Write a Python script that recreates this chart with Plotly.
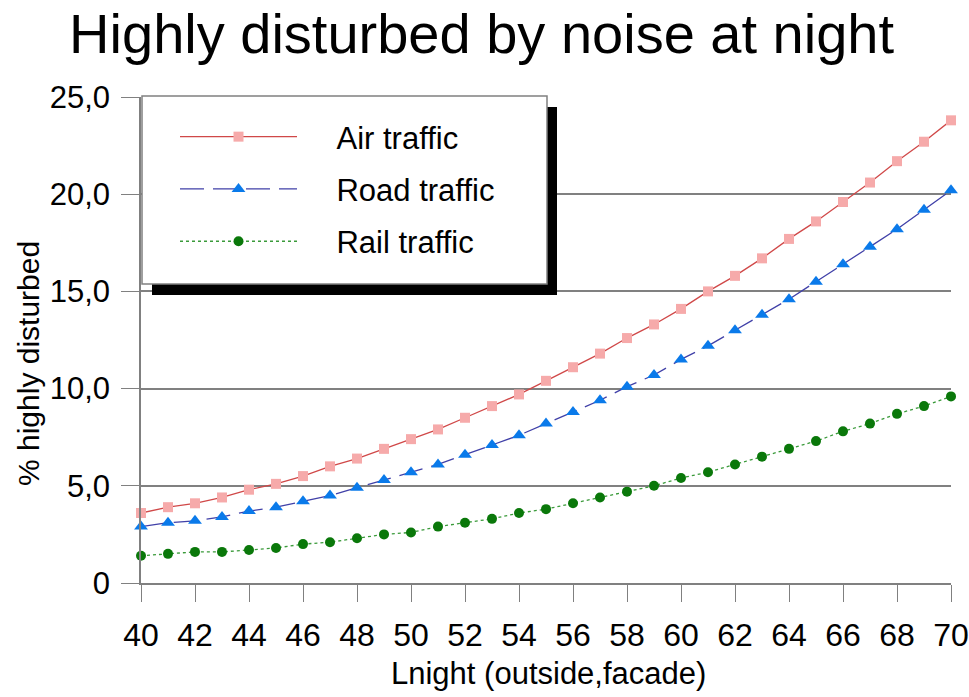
import plotly.graph_objects as go

lnight = list(range(40, 71))
air = [3.6, 3.9, 4.1, 4.4, 4.8, 5.1, 5.5, 6.0, 6.4, 6.9, 7.4, 7.9, 8.5, 9.1, 9.7, 10.4,
       11.1, 11.8, 12.6, 13.3, 14.1, 15.0, 15.8, 16.7, 17.7, 18.6, 19.6, 20.6, 21.7, 22.7, 23.8]
road = [2.9, 3.1, 3.2, 3.4, 3.7, 3.9, 4.2, 4.5, 4.9, 5.3, 5.7, 6.1, 6.6, 7.1, 7.6, 8.2,
        8.8, 9.4, 10.1, 10.7, 11.5, 12.2, 13.0, 13.8, 14.6, 15.5, 16.4, 17.3, 18.2, 19.2, 20.2]
rail = [1.4, 1.5, 1.6, 1.6, 1.7, 1.8, 2.0, 2.1, 2.3, 2.5, 2.6, 2.9, 3.1, 3.3, 3.6, 3.8,
        4.1, 4.4, 4.7, 5.0, 5.4, 5.7, 6.1, 6.5, 6.9, 7.3, 7.8, 8.2, 8.7, 9.1, 9.6]
series_names = ["Air traffic", "Road traffic", "Rail traffic"]
y_tickvals = [0, 5, 10, 15, 20, 25]
y_ticktext = ["0", "5,0", "10,0", "15,0", "20,0", "25,0"]
x_tickvals = list(range(40, 71, 2))

FONT = "Liberation Sans, Arial, sans-serif"
PAD = "\u00a0\u00a0\u00a0\u00a0"

fig = go.Figure()
fig.add_trace(go.Scatter(
    x=lnight, y=air, name=PAD + series_names[0], mode="lines+markers", legendgroup="a",
    line=dict(color="#d04848", width=1.3),
    marker=dict(symbol="square", size=10, color="#f6aaaa"), cliponaxis=False))
fig.add_trace(go.Scatter(
    x=lnight, y=road, name=PAD + series_names[1], mode="lines+markers", legendgroup="b",
    line=dict(color="#4040a8", width=1.3, dash="24px,9px"),
    marker=dict(symbol="triangle-up", size=12, color="#0a7aea"), cliponaxis=False))
fig.add_trace(go.Scatter(
    x=lnight, y=rail, name=PAD + series_names[2], mode="lines+markers", legendgroup="c",
    line=dict(color="#3a9a3a", width=1.3, dash="3px,3px"),
    marker=dict(symbol="circle", size=10, color="#0a780a"), cliponaxis=False))

W, H = 969, 697
L, R, T, B = 141, 18, 97, 114
pw, ph = W - L - R, H - T - B

def px(xp):
    return (xp - L) / pw

def py(yp):
    return (H - B - yp) / ph

shapes = [
    dict(type="rect", xref="paper", yref="paper", x0=px(152), x1=px(557), y0=py(295), y1=py(107),
         fillcolor="black", line=dict(width=0), layer="above"),
    dict(type="rect", xref="paper", yref="paper", x0=px(142), x1=px(547), y0=py(284), y1=py(96),
         fillcolor="white", line=dict(color="#808080", width=1.5), layer="above"),
]

annotations = [
    dict(text="% highly disturbed", xref="paper", yref="paper", x=px(28), y=py(364),
         textangle=-90, showarrow=False, font=dict(family=FONT, size=30, color="black"),
         xanchor="center", yanchor="middle"),
    dict(text="Lnight (outside,facade)", xref="paper", yref="paper", x=px(548), y=py(673),
         showarrow=False, font=dict(family=FONT, size=31, color="black"),
         xanchor="center", yanchor="middle"),
]

fig.update_layout(
    width=W, height=H,
    margin=dict(l=L, r=R, t=T, b=B),
    paper_bgcolor="white", plot_bgcolor="white",
    title=dict(text="Highly disturbed by noise at night", x=0.497, xanchor="center",
               y=1 - 33 / H, yanchor="middle", yref="container",
               font=dict(family=FONT, size=56, color="black")),
    showlegend=True,
    legend=dict(x=px(175), y=py(110), xanchor="left", yanchor="top",
                bgcolor="rgba(0,0,0,0)", borderwidth=0, itemwidth=117,
                tracegroupgap=9, font=dict(family=FONT, size=31, color="black")),
    shapes=shapes,
    annotations=annotations,
    xaxis=dict(range=[40, 70], tickvals=x_tickvals, ticks="outside", ticklen=17,
               tickcolor="#808080", tickwidth=1.3, showgrid=False, showline=True,
               linecolor="#808080", linewidth=1.5, zeroline=False, automargin=False,
               ticklabeloverflow="allow",
               tickfont=dict(family=FONT, size=32, color="black"), ticklabelstandoff=6),
    yaxis=dict(range=[0, 25], tickvals=y_tickvals, ticktext=y_ticktext, ticks="outside",
               ticklen=18, tickcolor="#808080", tickwidth=1.3, showgrid=True,
               gridcolor="#808080", gridwidth=1.5, showline=True, linecolor="#808080",
               linewidth=1.5, zeroline=False, automargin=False,
               tickfont=dict(family=FONT, size=31, color="black"), ticklabelstandoff=5),
)

fig.write_html("out.html", config={"displayModeBar": False},
               post_script="document.body.style.margin='0px';document.body.style.overflow='hidden';")
